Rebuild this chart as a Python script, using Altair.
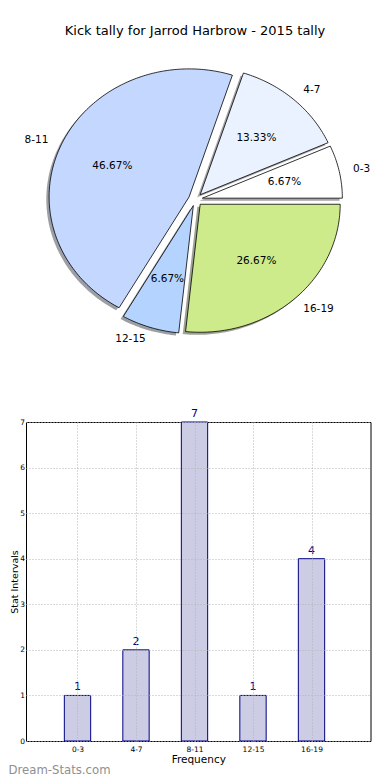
import json
import math
import numpy as np
import pandas as pd
import altair as alt

TITLE = "Kick tally for Jarrod Harbrow - 2015 tally"
labels = ["0-3", "4-7", "8-11", "12-15", "16-19"]
counts = [1, 2, 7, 1, 4]
pie_colors = ["#FFFFFF", "#EBF2FF", "#C4D8FF", "#B4D4FF", "#CEEB8B"]
y_ticks = [0, 1, 2, 3, 4, 5, 6, 7]
x_ticks = [0, 1, 2, 3, 4]
x_title = "Frequency"
y_title = "Stat Intervals"
watermark = "Dream-Stats.com"

FONT = "DejaVu Sans"
EXPLODE = 0.05
SHADOW = 0.02
BAR_W = 0.45

# layout constants (pixels, relative to the chart's svg origin)
PAD_L = 17.5
PW = 362 - PAD_L
PIE_H = 381
BAR_H = 319
GAP = 32
CX = 187 - PAD_L
RX, RY = 140.0, 128.0
FIRST_BAR_PX = 69.0 - PAD_L   # centre of first bar inside the panel
BAR_STEP_PX = 58.5

XB_LO = -FIRST_BAR_PX / BAR_STEP_PX
XB_HI = XB_LO + PW / BAR_STEP_PX


def shade(hexcol, f=0.3):
    h = hexcol.lstrip("#")
    r, g, b = (int(h[i:i + 2], 16) for i in (0, 2, 4))
    return "#%02x%02x%02x" % (int(r * f), int(g * f), int(b * f))


shadow_colors = [shade(c) for c in pie_colors]

total = sum(counts)
rows, pct_rows, lab_rows = [], [], []
start = 0.0
for lab, c in zip(labels, counts):
    frac = c / total
    a0, a1 = start, start + 360.0 * frac
    start = a1
    m = math.radians((a0 + a1) / 2)
    ox, oy = EXPLODE * math.cos(m), EXPLODE * math.sin(m)
    n = max(2, int(math.ceil(a1 - a0)))
    angs = np.radians(np.linspace(a0, a1, n + 1))
    pts = [(ox, oy)] + [(ox + math.cos(a), oy + math.sin(a)) for a in angs]
    for k, (px, py) in enumerate(pts):
        rows.append(dict(label=lab, k=k, x=px, y=py, sx=px - SHADOW, sy=py - SHADOW))
    pct_rows.append(dict(label=lab, x=ox + 0.6 * math.cos(m), y=oy + 0.6 * math.sin(m),
                         text="%.2f%%" % (100 * frac)))
    lab_rows.append(dict(label=lab, x=ox + 1.1 * math.cos(m), y=oy + 1.1 * math.sin(m),
                         side="L" if math.cos(m) < 0 else "R"))

wedges = pd.DataFrame(rows)
pcts = pd.DataFrame(pct_rows)
labs = pd.DataFrame(lab_rows)

xs = alt.Scale(domain=[-CX / RX, (PW - CX) / RX], nice=False, zero=False)
ys = alt.Scale(domain=[-PIE_H / 2 / RY, PIE_H / 2 / RY], nice=False, zero=False)

shadow_layer = alt.Chart(wedges).mark_line(
    interpolate="linear-closed", strokeOpacity=0, fillOpacity=0.5
).encode(
    x=alt.X("sx:Q", scale=xs, axis=None),
    y=alt.Y("sy:Q", scale=ys, axis=None),
    fill=alt.Fill("label:N", scale=alt.Scale(domain=labels, range=shadow_colors), legend=None),
    order="k:Q",
    detail="label:N",
)

wedge_layer = alt.Chart(wedges).mark_line(
    interpolate="linear-closed", stroke="black", strokeWidth=0.8
).encode(
    x=alt.X("x:Q", scale=xs, axis=None),
    y=alt.Y("y:Q", scale=ys, axis=None),
    fill=alt.Fill("label:N", scale=alt.Scale(domain=labels, range=pie_colors), legend=None),
    order="k:Q",
    detail="label:N",
)

pct_layer = alt.Chart(pcts).mark_text(font=FONT, fontSize=10.5, color="black").encode(
    x=alt.X("x:Q", scale=xs, axis=None),
    y=alt.Y("y:Q", scale=ys, axis=None),
    text="text:N",
)

labL = alt.Chart(labs).transform_filter("datum.side == 'L'").mark_text(
    font=FONT, fontSize=10.5, color="black", align="right", baseline="middle"
).encode(x=alt.X("x:Q", scale=xs, axis=None), y=alt.Y("y:Q", scale=ys, axis=None), text="label:N")

labR = alt.Chart(labs).transform_filter("datum.side == 'R'").mark_text(
    font=FONT, fontSize=10.5, color="black", align="left", baseline="middle"
).encode(x=alt.X("x:Q", scale=xs, axis=None), y=alt.Y("y:Q", scale=ys, axis=None), text="label:N")

title_layer = alt.Chart(pd.DataFrame({"t": [TITLE]})).mark_text(
    font=FONT, fontSize=13, color="black", align="center", baseline="middle"
).encode(x=alt.value(186.5 - PAD_L), y=alt.value(22), text="t:N")

pie = alt.layer(shadow_layer, wedge_layer, pct_layer, labL, labR, title_layer).resolve_scale(
    fill="independent"
).properties(width=PW, height=PIE_H, view=alt.ViewBackground(stroke="transparent"))

# ---- bar chart ----
bdf = pd.DataFrame({"label": labels, "count": counts, "pos": list(range(len(labels)))})
bdf["x0"] = bdf["pos"] - BAR_W / 2
bdf["x1"] = bdf["pos"] + BAR_W / 2
bdf["base"] = 0

xb = alt.Scale(domain=[XB_LO, XB_HI], nice=False, zero=False)
yb = alt.Scale(domain=[0, max(y_ticks)], nice=False, zero=True)

grid_kw = dict(grid=True, gridColor="#b4b4b4", gridDash=[1, 2], gridWidth=1,
               ticks=False, tickSize=0, domain=False, zindex=1,
               labelFont=FONT, labelColor="black",
               titleFont=FONT, titleFontWeight="normal", titleColor="black")

x_axis = alt.Axis(values=x_ticks, labelExpr=json.dumps(labels) + "[datum.value]",
                  title=x_title, labelPadding=4, labelFontSize=7.5,
                  titleFontSize=10.5, titlePadding=2, **grid_kw)
y_axis = alt.Axis(values=y_ticks, title=y_title, labelPadding=1.5, labelFontSize=7.5,
                  titleFontSize=9.5, titleAngle=270, titleX=-6.5, titleBaseline="bottom",
                  **grid_kw)

bars = alt.Chart(bdf).mark_bar(fill="#CCCCE5", stroke="#000080", strokeWidth=1).encode(
    x=alt.X("x0:Q", scale=xb, axis=x_axis),
    x2="x1:Q",
    y=alt.Y("count:Q", scale=yb, axis=y_axis),
    y2="base:Q",
)

vals = alt.Chart(bdf).mark_text(font=FONT, fontSize=11, color="#000080",
                                baseline="alphabetic", dy=-5).encode(
    x=alt.X("pos:Q", scale=xb),
    y=alt.Y("count:Q", scale=yb),
    text="count:Q",
)

wm = alt.Chart(pd.DataFrame({"w": [watermark]})).mark_text(
    font=FONT, fontSize=11.7, color="#8f8f8f", align="left", baseline="alphabetic"
).encode(x=alt.value(-PAD_L), y=alt.value(352), text="w:N")

bar = alt.layer(bars, vals, wm).properties(
    width=PW, height=BAR_H, view=alt.ViewBackground(stroke="black", strokeWidth=1)
)

chart = alt.vconcat(pie, bar, spacing=GAP, bounds="flush").properties(
    padding=0,
).configure(background="white")

chart.save("out.html", embed_options={"renderer": "svg", "actions": False})
